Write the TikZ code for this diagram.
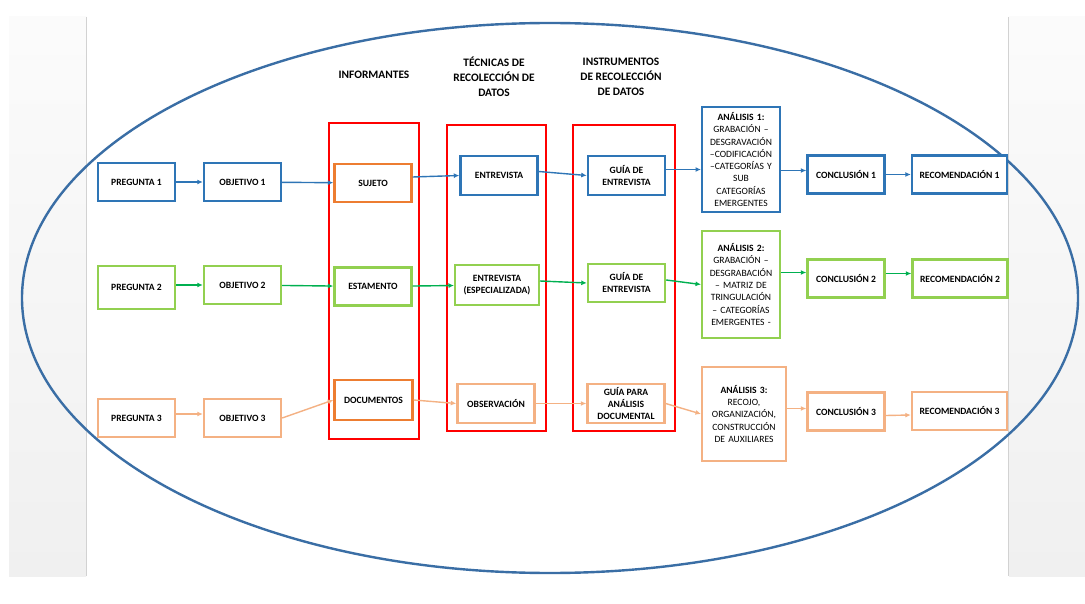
\documentclass[tikz,border=0pt]{standalone}
\usepackage{fontspec}
\setmainfont{Carlito}
\usetikzlibrary{arrows.meta}
\definecolor{azul}{RGB}{46,117,182}
\definecolor{verde}{RGB}{146,208,80}
\definecolor{verdeosc}{RGB}{0,176,80}
\definecolor{salmon}{RGB}{244,177,131}
\definecolor{naranja}{RGB}{237,125,49}
\definecolor{elipse}{RGB}{58,110,165}
\definecolor{fondo}{RGB}{240,240,240}

\begin{document}
\begin{tikzpicture}[x=1pt,y=-1pt,
  caja/.style={draw=#1, line width=2.4pt, fill=white, align=center, inner sep=1pt,
    minimum width=77pt, minimum height=38pt, font=\bfseries\fontsize{9.6}{12}\selectfont},
  analisis/.style={caja=#1, inner sep=0pt, font=\fontsize{9.6}{12.3}\selectfont},
  flecha/.style={draw=#1, line width=1.4pt, -{Latex[length=5.5pt,width=5pt]}},
  titulo/.style={align=center, font=\bfseries\fontsize{11.4}{15}\selectfont},
  marco/.style={draw=red, line width=2.4pt}]
\useasboundingbox (0,0) rectangle (1085,604);
% Page and grey margins
\fill[white] (0,0) rectangle (1085,604);
\shade[top color=fondo!25, bottom color=fondo] (9,17) rectangle (86,576);
\shade[top color=fondo!25, bottom color=fondo] (1009,17) rectangle (1085,576);
\draw[gray!35, line width=0.8pt] (86.5,17) -- (86.5,576);
\draw[gray!35, line width=0.8pt] (1008.5,17) -- (1008.5,576);
% Ellipse round everything
\draw[elipse, line width=2.4pt] (550,298) ellipse [x radius=528pt, y radius=275pt];
% Column titles
\node[titulo] (tinf) at (374,75) {INFORMANTES};
\node[titulo] (ttec) at (494,77) {TÉCNICAS DE\\RECOLECCIÓN DE\\DATOS};
\node[titulo] (tins) at (621,77) {INSTRUMENTOS\\DE RECOLECCIÓN\\DE DATOS};
% Red frames
\draw[marco] (329.2,123.2) rectangle (418.8,438.8);
\draw[marco] (447.2,125.2) rectangle (545.8,430.8);
\draw[marco] (573.2,125.2) rectangle (674.8,430.8);
% Row 1
\node[caja=azul] (p1) at (136.5,182) {PREGUNTA 1};
\node[caja=azul] (o1) at (242.5,182) {OBJETIVO 1};
\node[caja=naranja] (inf1) at (373,183) {SUJETO};
\node[caja=azul, minimum height=39pt] (tec1) at (499,175.5) {ENTREVISTA};
\node[caja=azul, minimum height=39pt] (ins1) at (626.5,175.5) {GUÍA DE\\ENTREVISTA};
\node[analisis=azul, text width=77.6pt, minimum height=104.6pt] (an1) at (741,159.5)
  {\textbf{ANÁLISIS 1:}\\GRABACIÓN –\\DESGRAVACIÓN\\–CODIFICACIÓN\\–CATEGORÍAS Y\\SUB\\CATEGORÍAS\\EMERGENTES};
\node[caja=azul] (con1) at (846,174.5) {CONCLUSIÓN 1};
\node[caja=azul, minimum width=95pt] (rec1) at (959.5,174.5) {RECOMENDACIÓN 1};
% Row 2
\node[caja=verde, minimum height=42.6pt] (p2) at (136.5,287.5) {PREGUNTA 2};
\node[caja=verde] (o2) at (242.5,285) {OBJETIVO 2};
\node[caja=verde] (inf2) at (373,286.5) {ESTAMENTO};
\node[caja=verde, minimum width=83.6pt, minimum height=39.6pt] (tec2) at (497,285) {ENTREVISTA\\(ESPECIALIZADA)};
\node[caja=verde] (ins2) at (626.5,283) {GUÍA DE\\ENTREVISTA};
\node[analisis=verde, text width=77.6pt, minimum height=106.6pt] (an2) at (741,284.5)
  {\textbf{ANÁLISIS 2:}\\GRABACIÓN –\\DESGRABACIÓN\\– MATRIZ DE\\TRINGULACIÓN\\– CATEGORÍAS\\EMERGENTES -};
\node[caja=verde] (con2) at (846,278.5) {CONCLUSIÓN 2};
\node[caja=verde, minimum width=95pt] (rec2) at (960,278.5) {RECOMENDACIÓN 2};
% Row 3
\node[caja=salmon] (p3) at (136.5,418) {PREGUNTA 3};
\node[caja=salmon] (o3) at (242.5,418) {OBJETIVO 3};
\node[caja=naranja, minimum width=78pt, minimum height=39.6pt] (inf3) at (373.5,400) {DOCUMENTOS};
\node[caja=salmon, minimum height=38.6pt] (tec3) at (496,403.5) {OBSERVACIÓN};
\node[caja=salmon, minimum height=38.6pt] (ins3) at (626,403.5) {GUÍA PARA\\ANÁLISIS\\DOCUMENTAL};
\node[analisis=salmon, text width=83.6pt, minimum height=93.6pt] (an3) at (744,414)
  {\textbf{ANÁLISIS 3:}\\RECOJO,\\ORGANIZACIÓN,\\CONSTRUCCIÓN\\DE AUXILIARES};
\node[caja=salmon] (con3) at (846,411.5) {CONCLUSIÓN 3};
\node[caja=salmon, minimum width=95pt] (rec3) at (959.5,411) {RECOMENDACIÓN 3};
% Arrows, row 1
\draw[flecha=azul] (p1) -- (o1);
\draw[flecha=azul] (o1) -- (inf1);
\draw[flecha=azul] ([yshift=6pt]inf1.east) -- (tec1.west);
\draw[flecha=azul] ([yshift=4pt]tec1.east) -- (ins1.west);
\draw[flecha=azul] ([yshift=6pt]ins1.east) -- ([yshift=6pt]ins1.east -| an1.west);
\draw[flecha=azul] ([yshift=4pt]an1.east |- con1.west) -- ([yshift=4pt]con1.west);
\draw[flecha=azul] (con1) -- (rec1);
% Arrows, row 2
\draw[flecha=verdeosc] (p2.east |- o2.west) -- (o2.west);
\draw[flecha=verdeosc] (o2) -- (inf2);
\draw[flecha=verdeosc] (inf2) -- (tec2);
\draw[flecha=verdeosc] ([yshift=4pt]tec2.east) -- (ins2.west);
\draw[flecha=verdeosc] ([yshift=3pt]ins2.east) -- (an2.west);
\draw[flecha=verdeosc] ([yshift=6pt]an2.east |- con2.west) -- ([yshift=6pt]con2.west);
\draw[flecha=verdeosc] ([yshift=5pt]con2.east) -- ([yshift=5pt]rec2.west);
% Arrows, row 3
\draw[flecha=salmon] ([yshift=4pt]p3.east) -- ([yshift=4pt]o3.west);
\draw[flecha=salmon] (o3.east) -- (inf3.west);
\draw[flecha=salmon] (inf3.east) -- (tec3.west);
\draw[flecha=salmon] (tec3) -- (ins3);
\draw[flecha=salmon] (ins3.east) -- (an3.west);
\draw[flecha=salmon] ([yshift=3pt]an3.east |- con3.west) -- ([yshift=3pt]con3.west);
\draw[flecha=salmon] ([yshift=-4pt]con3.east) -- ([yshift=-4pt]rec3.west);
\end{tikzpicture}
\end{document}
